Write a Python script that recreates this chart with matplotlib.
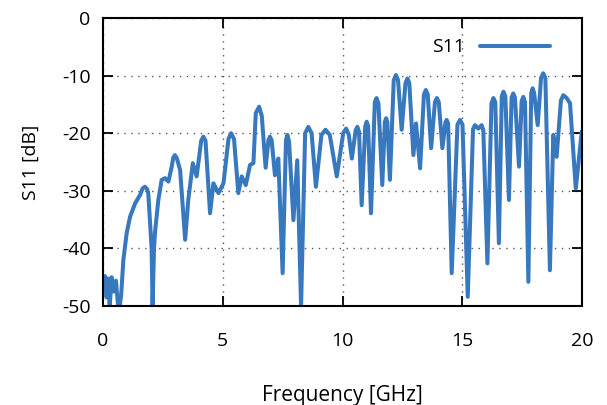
import matplotlib
matplotlib.use('Agg')
import matplotlib.pyplot as plt

plt.rcParams['font.family'] = ['Open Sans', 'DejaVu Sans']
plt.rcParams['axes.unicode_minus'] = False

# extrema and shoulders (GHz, dB)
freq = [0.0, 0.08, 0.15, 0.2, 0.28, 0.36, 0.45, 0.54, 0.63, 0.7, 0.76, 0.85, 0.99, 1.13,
        1.34, 1.55, 1.65, 1.75, 1.84, 1.89, 2.03, 2.07, 2.13, 2.17, 2.31, 2.45, 2.59, 2.73,
        2.87, 2.93, 3.0, 3.08, 3.22, 3.43, 3.56, 3.75, 3.91, 4.1, 4.19, 4.28, 4.47, 4.61,
        4.82, 5.03, 5.24, 5.35, 5.47, 5.65, 5.79, 5.96, 6.14, 6.28, 6.38, 6.52, 6.63, 6.79,
        6.91, 6.97, 7.04, 7.18, 7.32, 7.50, 7.64, 7.7, 7.77, 7.95, 8.11, 8.27, 8.44, 8.57,
        8.71, 8.89, 9.12, 9.29, 9.47, 9.76, 10.03, 10.15, 10.26, 10.39, 10.55, 10.62, 10.69,
        10.80, 10.95, 11.01, 11.07, 11.19, 11.35, 11.42, 11.5, 11.66, 11.77, 11.82, 11.87,
        11.98, 12.14, 12.23, 12.32, 12.47, 12.63, 12.71, 12.79, 12.96, 13.07, 13.24, 13.4,
        13.48, 13.56, 13.70, 13.86, 13.94, 14.02, 14.17, 14.3, 14.35, 14.41, 14.56, 14.8,
        14.91, 15.01, 15.23, 15.45, 15.53, 15.67, 15.81, 15.88, 16.05, 16.22, 16.30, 16.38,
        16.53, 16.65, 16.72, 16.8, 16.95, 17.06, 17.13, 17.2, 17.37, 17.48, 17.55, 17.62,
        17.76, 17.88, 17.94, 18.0, 18.15, 18.29, 18.38, 18.47, 18.66, 18.80, 18.94, 19.12,
        19.22, 19.36, 19.50, 19.74, 19.99]
s11 = [-46.5, -44.8, -48.5, -45.2, -50, -45.0, -47.5, -45.6, -50, -50, -48, -42, -37.3, -34.5,
       -32.2, -30.7, -29.6, -29.3, -29.7, -30.4, -40, -50, -40, -37.3, -31.6, -28.1, -27.8, -28.4,
       -25.8, -24.3, -23.8, -24.3, -26.4, -38.5, -31.6, -25.2, -27.5, -21.3, -20.6, -21.3, -33.9, -28.7,
       -30.4, -28.7, -21.0, -20, -21.0, -30.4, -27.5, -29, -25.5, -25.2, -16.5, -15.4, -17.0, -26,
       -21.2, -20.6, -21.2, -27.3, -24.4, -44.3, -21.2, -20.3, -21.5, -35.1, -24.7, -50, -20.0, -18.9,
       -20.0, -29.3, -20.3, -19.4, -20.3, -27.5, -20.0, -19.2, -20.2, -24.4, -19.5, -18.9, -19.8,
       -32.5, -18.8, -18, -18.8, -33.9, -14.6, -13.9, -14.8, -29, -18.0, -17.4, -18.0,
       -28.1, -10.8, -9.9, -10.8, -19.4, -11.3, -10.5, -11.3, -23.8, -18.3, -26.1, -13.3,
       -12.5, -13.3, -22.6, -14.6, -13.9, -14.6, -22.6, -18.1, -17.7, -18.3, -44.3, -18.5,
       -17.7, -18.5, -48.4, -19.3, -18.6, -19.2, -18.6, -19.5, -42.6, -14.8, -13.9, -14.6,
       -39.1, -13.6, -12.8, -13.6, -31.6, -13.8, -13.1, -13.8, -25.8, -14.4, -13.7, -14.6,
       -45.8, -13.0, -12.2, -13.0, -18.6, -10.4, -9.6, -10.4, -43.8, -20.3, -24.1, -14.3,
       -13.4, -13.9, -14.8, -29.6, -19.7]

xticks = [0, 5, 10, 15, 20]
yticks = [0, -10, -20, -30, -40, -50]

fig = plt.figure(figsize=(6.07, 4.05), dpi=100)
ax = fig.add_axes([103 / 607, 1 - 306 / 405, 479 / 607, 288 / 405])

ax.plot(freq, s11, color='#3878be', lw=2.9, label='S11',
        solid_joinstyle='round', solid_capstyle='round')

ax.set_xlim(0, 20)
ax.set_ylim(-50, 0)
ax.set_xticks(xticks)
ax.set_yticks(yticks)
ax.tick_params(direction='in', length=7, width=1.3, top=True, right=True, labelsize=14)
ax.tick_params(axis='x', pad=19)
ax.tick_params(axis='y', pad=9)
for sp in ax.spines.values():
    sp.set_linewidth(1.5)
ax.grid(True, color='#555555', linestyle=(0, (1, 4)), linewidth=1)

ax.set_ylabel('S11 [dB]', fontsize=14, labelpad=16)
fig.text(342 / 607, 1 - 396 / 405, 'Frequency [GHz]', fontsize=15, ha='center', va='center')

ax.legend(loc='upper right', frameon=False, fontsize=14, handlelength=3.6,
          markerfirst=False, bbox_to_anchor=(0.97, 0.99), handletextpad=0.8)

fig.savefig('out.png', dpi=100)
